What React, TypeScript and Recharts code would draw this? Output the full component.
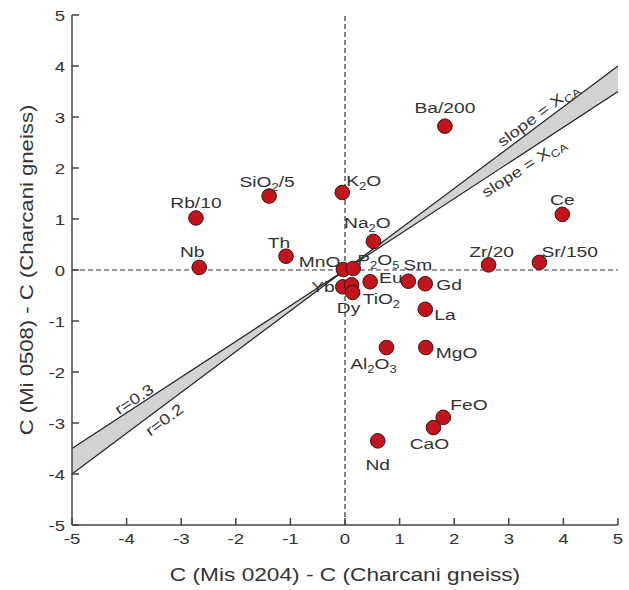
import React from "react";
import {
  ComposedChart,
  Scatter,
  Line,
  Area,
  XAxis,
  YAxis,
  ReferenceLine,
  ReferenceDot,
} from "recharts";

// element labels, {..} marks a subscript
const names = [
  "Rb/10", "Nb", "SiO{2}/5", "Th", "MnO", "P{2}O{5}", "Na{2}O", "K{2}O",
  "Ba/200", "Ce", "Zr/20", "Sr/150", "Eu", "Sm", "Gd", "Yb", "Dy",
  "TiO{2}", "La", "Al{2}O{3}", "MgO", "FeO", "CaO", "Nd",
];
const xVals = [
  -2.73, -2.67, -1.39, -1.08, -0.03, 0.15, 0.52, -0.05, 1.83, 3.98, 2.63,
  3.56, 0.46, 1.16, 1.47, -0.04, 0.12, 0.14, 1.47, 0.76, 1.48, 1.8, 1.62, 0.6,
];
const yVals = [
  1.02, 0.05, 1.45, 0.27, 0.01, 0.03, 0.56, 1.52, 2.82, 1.09, 0.1, 0.15,
  -0.23, -0.22, -0.27, -0.33, -0.29, -0.44, -0.77, -1.52, -1.52, -2.89,
  -3.09, -3.35,
];

// mixing lines r=0.3 (slope 0.7) and r=0.2 (slope 0.8)
const lineX = [-5, 0, 5];
const lineR03 = [-3.5, 0, 3.5];
const lineR02 = [-4, 0, 4];

const ticks = [-5, -4, -3, -2, -1, 0, 1, 2, 3, 4, 5];

const points = names.map((name, i) => ({ x: xVals[i], y: yVals[i], name }));
const r03Data = lineX.map((x, i) => ({ x, y: lineR03[i] }));
const r02Data = lineX.map((x, i) => ({ x, y: lineR02[i] }));
const bandData = lineX.map((x, i) => ({
  x,
  band: [Math.min(lineR03[i], lineR02[i]), Math.max(lineR03[i], lineR02[i])],
}));

// label placement relative to dot centre: dx, dy (baseline), anchor
const labelPos: Record<string, [number, number, string]> = {
  "Rb/10": [0, -10, "middle"],
  Nb: [-7, -10, "middle"],
  "SiO{2}/5": [-2, -9, "middle"],
  Th: [-7, -8, "middle"],
  MnO: [-3, -2, "end"],
  "P{2}O{5}": [4, -3, "start"],
  "Na{2}O": [-6, -13, "middle"],
  "K{2}O": [4, -6, "start"],
  "Ba/200": [0, -13, "middle"],
  Ce: [0, -9, "middle"],
  "Zr/20": [3, -8, "middle"],
  "Sr/150": [2, -5, "start"],
  Eu: [9, 1, "start"],
  Sm: [-5, -11, "start"],
  Gd: [11, 6, "start"],
  Yb: [-8, 5, "end"],
  Dy: [-3, 28, "middle"],
  "TiO{2}": [10, 12, "start"],
  La: [9, 11, "start"],
  "Al{2}O{3}": [-13, 21, "middle"],
  MgO: [10, 10, "start"],
  FeO: [7, -7, "start"],
  CaO: [-4, 21, "middle"],
  Nd: [0, 29, "middle"],
};

const FRAME = "#444";
const TEXT = "#333";
const SX = 1.24; // the figure's lettering is wider than Arial

function chem(label: string, subSize = 11) {
  const parts = label.split(/(\{[^}]+\})/).filter(Boolean);
  let shifted = false;
  return parts.map((p, i) => {
    if (p.startsWith("{")) {
      const dy = shifted ? undefined : 4;
      shifted = true;
      return (
        <tspan key={i} dy={dy} fontSize={subSize}>
          {p.slice(1, -1)}
        </tspan>
      );
    }
    const dy = shifted ? -4 : undefined;
    shifted = false;
    return (
      <tspan key={i} dy={dy}>
        {p}
      </tspan>
    );
  });
}

// text stretched horizontally around its anchor point
const SText = ({ x, y, anchor = "middle", size = 15, angle = 0, dy = 0, sx = SX, sub = 10.5, children }: any) => (
  <g transform={`translate(${x}, ${y}) rotate(${angle}) scale(${sx}, 1)`}>
    <text x={0} y={dy} textAnchor={anchor} fontSize={size} fill={TEXT}>
      {typeof children === "string" ? chem(children, sub) : children}
    </text>
  </g>
);

const Dot = (props: any) => (
  <circle
    cx={props.cx}
    cy={props.cy}
    r={7.3}
    fill="#c1141c"
    stroke="#3a1414"
    strokeWidth={1}
  />
);

const PointLabel = (props: any) => {
  const name = props.payload?.name ?? "";
  const [dx, dy, anchor] = labelPos[name] || [0, -10, "middle"];
  return (
    <SText x={props.cx + dx} y={props.cy + dy} anchor={anchor} size={15.5}>
      {name}
    </SText>
  );
};

const LeftTick = (props: any) => {
  const { x, y, payload } = props;
  return (
    <g>
      <line x1={x} y1={y} x2={x + 7} y2={y} stroke={FRAME} strokeWidth={1.5} />
      <SText x={x - 7} y={y + 5.5} anchor="end" size={15}>
        {String(payload.value)}
      </SText>
    </g>
  );
};

const BottomTick = (props: any) => {
  const { x, y, payload } = props;
  return (
    <g>
      <line x1={x} y1={y} x2={x} y2={y - 7} stroke={FRAME} strokeWidth={1.5} />
      <SText x={x} y={y + 19} anchor="middle" size={15}>
        {String(payload.value)}
      </SText>
    </g>
  );
};

const TopTick = (props: any) => (
  <line
    x1={props.x}
    y1={props.y}
    x2={props.x}
    y2={props.y + 7}
    stroke={FRAME}
    strokeWidth={1.5}
  />
);

const RightTick = (props: any) => (
  <line
    x1={props.x}
    y1={props.y}
    x2={props.x - 7}
    y2={props.y}
    stroke={FRAME}
    strokeWidth={1.5}
  />
);

// rotated annotation along the mixing lines
const note = (text: string, angle: number, dy: number) => (p: any) => (
  <SText x={p.cx} y={p.cy} angle={angle} dy={dy} size={15}>
    {text}
  </SText>
);

export default function App() {
  return (
    <div
      style={{
        position: "absolute",
        left: 0,
        top: 0,
        width: 629,
        height: 590,
        background: "#fff",
        fontFamily: "'Liberation Sans', Arial, sans-serif",
      }}
    >
      <ComposedChart
        width={629}
        height={590}
        margin={{ top: 15, right: 11, bottom: 0, left: 0 }}
      >
        <XAxis
          type="number"
          dataKey="x"
          domain={[-5, 5]}
          ticks={ticks}
          allowDataOverflow
          height={65}
          tickSize={0}
          tickMargin={0}
          tick={<BottomTick />}
          axisLine={{ stroke: FRAME, strokeWidth: 1.5 }}
          label={{
            content: () => (
              <SText x={345} y={581} size={18} sx={1.26}>
                C (Mis 0204) - C (Charcani gneiss)
              </SText>
            ),
          }}
        />
        <XAxis
          xAxisId="top"
          orientation="top"
          type="number"
          dataKey="x"
          domain={[-5, 5]}
          ticks={ticks}
          allowDataOverflow
          height={0}
          tickSize={0}
          tickMargin={0}
          tick={<TopTick />}
          axisLine={{ stroke: FRAME, strokeWidth: 1.5 }}
        />
        <YAxis
          type="number"
          dataKey="y"
          domain={[-5, 5]}
          ticks={ticks}
          allowDataOverflow
          width={72}
          tickSize={0}
          tickMargin={0}
          tick={<LeftTick />}
          axisLine={{ stroke: FRAME, strokeWidth: 1.5 }}
          label={{
            content: () => (
              <SText x={33} y={270} angle={-90} size={18} sx={1.23}>
                C (Mi 0508) - C (Charcani gneiss)
              </SText>
            ),
          }}
        />
        <YAxis
          yAxisId="right"
          orientation="right"
          type="number"
          dataKey="y"
          domain={[-5, 5]}
          ticks={ticks}
          allowDataOverflow
          width={0}
          tickSize={0}
          tickMargin={0}
          tick={<RightTick />}
          axisLine={{ stroke: FRAME, strokeWidth: 1.5 }}
        />

        <Area
          data={bandData}
          dataKey="band"
          type="linear"
          stroke="none"
          fill="#d2d2d2"
          fillOpacity={1}
          isAnimationActive={false}
        />
        <Line
          data={r03Data}
          dataKey="y"
          type="linear"
          stroke="#222"
          strokeWidth={1.2}
          dot={false}
          activeDot={false}
          isAnimationActive={false}
        />
        <Line
          data={r02Data}
          dataKey="y"
          type="linear"
          stroke="#222"
          strokeWidth={1.2}
          dot={false}
          activeDot={false}
          isAnimationActive={false}
        />
        <ReferenceLine x={0} stroke="#333" strokeWidth={1.2} strokeDasharray="5 3" />
        <ReferenceLine y={0} stroke="#333" strokeWidth={1.2} strokeDasharray="5 3" />

        <ReferenceDot x={-3.79} y={-2.653} shape={note("r=0.3", -33.2, -2)} />
        <ReferenceDot x={-3.44} y={-2.752} shape={note("r=0.2", -36.8, 17)} />
        <ReferenceDot x={3.63} y={2.904} shape={note("slope = X{CA}", -36.8, -4)} />
        <ReferenceDot x={3.15} y={2.205} shape={note("slope = X{CA}", -33.2, 17)} />

        <Scatter data={points} shape={<Dot />} isAnimationActive={false} />
        <Scatter data={points} shape={<PointLabel />} isAnimationActive={false} />
      </ComposedChart>
    </div>
  );
}
